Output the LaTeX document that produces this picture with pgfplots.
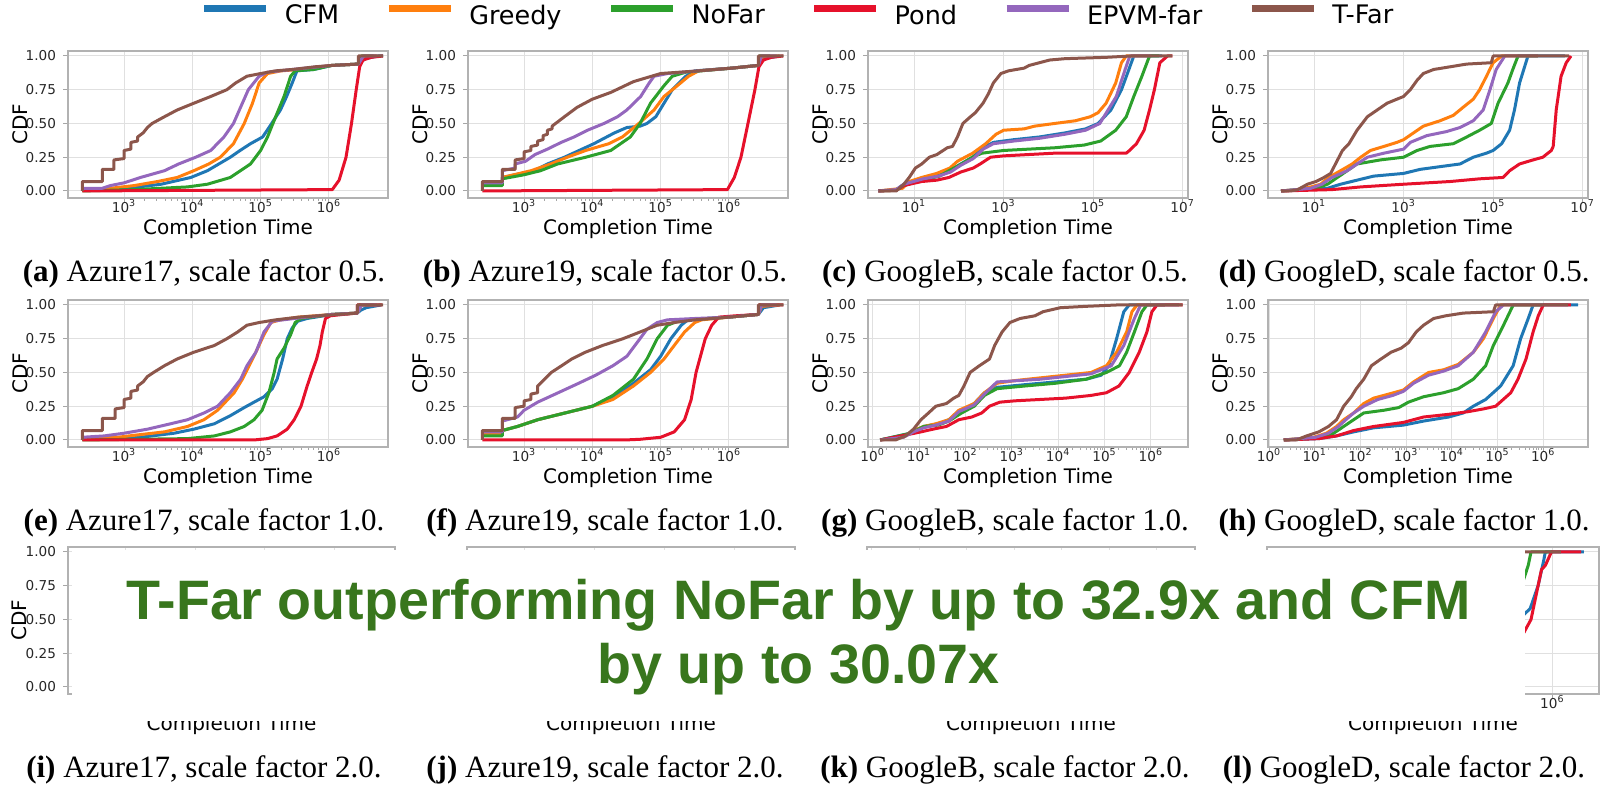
\documentclass[border=0pt]{standalone}
\usepackage{fontspec}
\setmainfont{Liberation Serif}
\newfontfamily\dvs{DejaVu Sans}
\newfontfamily\lsans{Liberation Sans}
\usepackage{pgfplots}
\pgfplotsset{compat=1.18}
\definecolor{cfm}{HTML}{1F77B4}
\definecolor{greedy}{HTML}{FF7F0E}
\definecolor{nofar}{HTML}{2CA02C}
\definecolor{pond}{HTML}{E6112B}
\definecolor{epvm}{HTML}{9467BD}
\definecolor{tfar}{HTML}{8C564B}
\definecolor{tgreen}{HTML}{38761D}
\newcommand\tickfont{\dvs\fontsize{6.8pt}{8pt}\selectfont}
\newcommand\labfont{\dvs\fontsize{10pt}{12pt}\selectfont}
\newcommand\legfont{\dvs\fontsize{12.75pt}{15pt}\selectfont}
\newcommand\capfont{\fontsize{15.5pt}{18pt}\selectfont}
\pgfplotsset{
  panel/.style={
    scale only axis, width=160pt, height=73.5pt,
    ymin=-0.052, ymax=1.037, tick pos=left,
    ytick={0,0.25,0.5,0.75,1}, yticklabels={0.00,0.25,0.50,0.75,1.00},
    xmajorgrids, ymajorgrids, grid style={draw=black!12, line width=0.5pt},
    axis line style={draw=black!30, line width=0.6pt},
    tick style={draw=black!35, line width=0.5pt},
    tick align=outside, major tick length=2.5pt, minor tick length=1.5pt,
    xticklabel style={font=\tickfont, text=black!85, inner sep=1pt, yshift=3pt},
    yticklabel style={font=\tickfont, text=black!85},
    xlabel={Completion Time}, ylabel={CDF},
    xlabel style={font=\labfont, inner sep=1pt, at={(axis description cs:0.5,-0.212)}, anchor=center},
    ylabel style={font=\labfont, at={(axis description cs:-0.15,0.5)}, anchor=center},
    every axis plot/.append style={line width=1.5pt, line join=round},
  },
  azx/.style={xmin=151, xmax=7.33e6, xtick={1e3,1e4,1e5,1e6},
    xticklabels={10\textsuperscript{3},10\textsuperscript{4},10\textsuperscript{5},10\textsuperscript{6}}},
  gox/.style={xmin=0.933, xmax=1.32e7, xtick={1e1,1e3,1e5,1e7},
    xticklabels={10\textsuperscript{1},10\textsuperscript{3},10\textsuperscript{5},10\textsuperscript{7}}},
  gax/.style={xtick={1,1e1,1e2,1e3,1e4,1e5,1e6},
    xticklabels={10\textsuperscript{0},10\textsuperscript{1},10\textsuperscript{2},10\textsuperscript{3},10\textsuperscript{4},10\textsuperscript{5},10\textsuperscript{6}}},
}
\begin{document}
\begin{tikzpicture}[x=1pt,y=1pt]
\useasboundingbox (0,0) rectangle (802,392.5);

% ---------------- (a) ----------------
\begin{axis}[xmode=log, panel, azx, anchor=south west, at={(34pt,293.5pt)}]
\addplot[cfm] coordinates {(245,0.005)(1120,0.02)(3500,0.05)(9500,0.10)(1.66e4,0.15)(3.6e4,0.25)(5e4,0.30)(7.1e4,0.35)(1.07e5,0.40)(1.45e5,0.50)(1.95e5,0.60)(2.4e5,0.70)(2.9e5,0.80)(3.4e5,0.89)(6e5,0.90)(1.1e6,0.93)(2.7e6,0.94)(3.4e6,0.98)(5.2e6,1.0)(6.2e6,1.0)};
\addplot[greedy] coordinates {(245,0.005)(630,0.02)(1410,0.04)(3100,0.07)(6000,0.10)(1.05e4,0.15)(1.74e4,0.20)(2.57e4,0.25)(4e4,0.35)(5.75e4,0.50)(7.6e4,0.65)(9.5e4,0.80)(1.26e5,0.87)(2e5,0.89)(3.7e5,0.90)(1.1e6,0.93)(2.7e6,0.94)(3.2e6,1.0)(5e6,1.0)};
\addplot[nofar] coordinates {(245,0)(1410,0.01)(8500,0.03)(1.66e4,0.05)(3.6e4,0.10)(7.1e4,0.20)(1e5,0.30)(1.26e5,0.40)(1.66e5,0.55)(2.2e5,0.70)(2.75e5,0.85)(3.2e5,0.89)(6e5,0.90)(1.1e6,0.93)(2.7e6,0.94)(3e6,1.0)(4.5e6,1.0)};
\addplot[pond] coordinates {(245,0)(1.12e6,0.01)(1.41e6,0.08)(1.78e6,0.25)(2.14e6,0.50)(2.51e6,0.75)(2.82e6,0.92)(3.16e6,0.97)(4.17e6,0.99)(6.2e6,1.0)};
\addplot[epvm] coordinates {(245,0.02)(480,0.02)(630,0.04)(1000,0.06)(1740,0.10)(3900,0.15)(6300,0.20)(1.12e4,0.25)(1.86e4,0.30)(2.9e4,0.40)(4e4,0.50)(5.4e4,0.65)(6.6e4,0.75)(9.5e4,0.85)(1.26e5,0.88)(2.9e5,0.90)(1.1e6,0.93)(2.7e6,0.94)(3.2e6,1.0)(5e6,1.0)};
\addplot[tfar] coordinates {(245,0)(245,0.07)(480,0.07)(480,0.16)(710,0.16)(710,0.23)(1000,0.24)(1000,0.30)(1260,0.31)(1260,0.36)(1580,0.37)(1580,0.40)(1900,0.43)(2200,0.47)(2570,0.50)(3900,0.55)(6000,0.60)(1.05e4,0.65)(1.86e4,0.70)(3.2e4,0.75)(4.3e4,0.80)(6.3e4,0.85)(1e5,0.87)(1.66e5,0.89)(2.9e5,0.90)(6.3e5,0.92)(1.1e6,0.93)(2.7e6,0.94)(2.7e6,1.0)(6.2e6,1.0)};
\end{axis}

% ---------------- (b) ----------------
\begin{axis}[xmode=log, panel, azx, anchor=south west, at={(234pt,293.5pt)}]
\addplot[cfm] coordinates {(245,0.05)(480,0.05)(480,0.10)(1410,0.15)(2200,0.20)(3900,0.25)(1.05e4,0.35)(2.1e4,0.43)(3.2e4,0.47)(5e4,0.48)(6.3e4,0.50)(8.5e4,0.55)(1.12e5,0.65)(1.48e5,0.75)(2.34e5,0.85)(3.2e5,0.89)(1.1e6,0.91)(2.7e6,0.93)(3.2e6,0.98)(5.5e6,1.0)};
\addplot[greedy] coordinates {(245,0.05)(480,0.05)(480,0.10)(1260,0.15)(2450,0.20)(4300,0.25)(8000,0.30)(1.74e4,0.35)(2.75e4,0.40)(4.8e4,0.50)(8e4,0.60)(1.12e5,0.70)(1.66e5,0.77)(2.57e5,0.85)(3.6e5,0.89)(1.1e6,0.91)(2.7e6,0.93)(3e6,0.99)(5.5e6,1.0)};
\addplot[nofar] coordinates {(245,0.04)(480,0.04)(480,0.09)(1000,0.12)(1740,0.15)(3100,0.20)(8000,0.25)(1.86e4,0.30)(3.6e4,0.40)(5e4,0.50)(7.1e4,0.65)(1.12e5,0.78)(1.48e5,0.85)(2.34e5,0.88)(1.1e6,0.91)(2.7e6,0.93)(2.8e6,1.0)(4e6,1.0)};
\addplot[pond] coordinates {(245,0)(9.5e5,0.01)(1.2e6,0.10)(1.5e6,0.25)(1.9e6,0.50)(2.4e6,0.75)(2.75e6,0.92)(3.2e6,0.97)(4.2e6,0.99)(6.2e6,1.0)};
\addplot[epvm] coordinates {(245,0.06)(480,0.06)(480,0.15)(740,0.17)(740,0.20)(1050,0.22)(1450,0.27)(2200,0.31)(3500,0.36)(5400,0.40)(8500,0.45)(1.48e4,0.50)(2.34e4,0.55)(3.2e4,0.60)(5.1e4,0.70)(6.8e4,0.80)(8e4,0.85)(1.26e5,0.87)(3.6e5,0.89)(1.1e6,0.91)(2.7e6,0.93)(3e6,1.0)(5e6,1.0)};
\addplot[tfar] coordinates {(245,0)(245,0.07)(480,0.07)(480,0.16)(740,0.16)(740,0.23)(1000,0.24)(1000,0.29)(1260,0.30)(1260,0.33)(1580,0.34)(1580,0.37)(1900,0.38)(1900,0.41)(2200,0.42)(2200,0.45)(2570,0.46)(2570,0.48)(3900,0.55)(6000,0.62)(1e4,0.68)(1.86e4,0.73)(4e4,0.81)(1e5,0.87)(3.6e5,0.89)(1.1e6,0.91)(2.7e6,0.93)(2.7e6,1.0)(6.3e6,1.0)};
\end{axis}

% ---------------- (c) ----------------
\begin{axis}[xmode=log, panel, gox, anchor=south west, at={(434pt,293.5pt)}]
\addplot[cfm] coordinates {(1.58,0)(3.98,0.01)(5.9,0.05)(16,0.10)(32,0.12)(63,0.15)(110,0.20)(204,0.25)(347,0.32)(589,0.36)(1700,0.38)(6310,0.40)(2.34e4,0.43)(6.8e4,0.46)(1.29e5,0.50)(2.5e5,0.60)(4.3e5,0.75)(6.3e5,0.90)(8.1e5,1.0)(3.5e6,1.0)};
\addplot[greedy] coordinates {(1.58,0)(5.5,0.02)(7.8,0.07)(14.8,0.10)(32,0.13)(63,0.17)(93,0.22)(204,0.28)(398,0.35)(676,0.42)(1000,0.45)(2880,0.46)(4900,0.48)(1.38e4,0.50)(4e4,0.52)(8.7e4,0.55)(1.29e5,0.58)(1.95e5,0.65)(3.2e5,0.80)(4.3e5,0.95)(5.5e5,1.0)(2e6,1.0)};
\addplot[nofar] coordinates {(1.58,0)(3.98,0.005)(5.9,0.04)(14.8,0.08)(37,0.11)(60,0.15)(115,0.20)(200,0.25)(330,0.28)(1000,0.30)(3700,0.31)(1.38e4,0.32)(6.3e4,0.34)(1.48e5,0.37)(3.2e5,0.45)(5.5e5,0.55)(8.1e5,0.70)(1.23e6,0.85)(1.82e6,1.0)(3e6,1.0)};
\addplot[pond] coordinates {(1.58,0)(3.98,0.005)(5.9,0.04)(14.8,0.07)(32,0.08)(60,0.10)(110,0.14)(210,0.17)(300,0.20)(510,0.25)(1000,0.26)(3700,0.27)(1.38e4,0.28)(5.5e5,0.28)(6.5e5,0.30)(9.3e5,0.35)(1.38e6,0.45)(1.82e6,0.60)(2.34e6,0.75)(3.1e6,0.95)(4.6e6,1.0)(5.9e6,1.0)};
\addplot[epvm] coordinates {(1.58,0)(3.98,0.01)(5.9,0.05)(16,0.09)(35,0.11)(65,0.14)(110,0.19)(210,0.24)(350,0.31)(590,0.35)(1700,0.37)(6300,0.39)(2.34e4,0.42)(6.8e4,0.45)(1.41e5,0.50)(3.3e5,0.70)(5.2e5,0.90)(6.6e5,1.0)(2e6,1.0)};
\addplot[tfar] coordinates {(1.58,0)(3.98,0)(5.9,0.05)(7.76,0.10)(10.7,0.17)(14.8,0.20)(21.9,0.25)(32.4,0.27)(55,0.32)(72,0.33)(93,0.40)(123,0.50)(182,0.55)(234,0.58)(347,0.65)(457,0.72)(589,0.80)(871,0.87)(1290,0.89)(2880,0.91)(3720,0.93)(6310,0.95)(1.07e4,0.97)(2.34e4,0.98)(1.95e5,0.99)(7.2e5,1.0)(5.9e6,1.0)};
\end{axis}

% ---------------- (d) ----------------
\begin{axis}[xmode=log, panel, gox, anchor=south west, at={(634pt,293.5pt)}]
\addplot[cfm] coordinates {(1.82,0)(20,0.02)(39,0.05)(91,0.08)(214,0.11)(1000,0.13)(2340,0.16)(6500,0.18)(1.82e4,0.20)(3.6e4,0.25)(7.1e4,0.28)(1e5,0.30)(1.55e5,0.35)(2.34e5,0.45)(3e5,0.60)(3.9e5,0.80)(6e5,1.0)(4e6,1.0)};
\addplot[greedy] coordinates {(1.82,0)(4.3,0.01)(8.5,0.03)(14,0.05)(21,0.10)(39,0.15)(71,0.20)(110,0.25)(182,0.30)(363,0.33)(708,0.36)(1000,0.38)(1660,0.43)(2750,0.48)(6500,0.52)(1.29e4,0.56)(2.14e4,0.62)(3.6e4,0.68)(5e4,0.75)(7.1e4,0.85)(1e5,0.95)(1.55e5,1.0)(1e6,1.0)};
\addplot[nofar] coordinates {(1.82,0)(11,0.02)(20,0.05)(33,0.10)(55,0.15)(91,0.20)(302,0.23)(1000,0.25)(2000,0.30)(3900,0.33)(1.29e4,0.35)(2.57e4,0.40)(5e4,0.45)(9.1e4,0.50)(1.29e5,0.65)(2.14e5,0.80)(2.75e5,0.90)(3.6e5,1.0)(1e6,1.0)};
\addplot[pond] coordinates {(1.82,0)(25,0.01)(110,0.03)(1000,0.05)(1.1e4,0.07)(5e4,0.09)(1.66e5,0.10)(2.34e5,0.15)(3.9e5,0.20)(7.8e5,0.23)(1.29e6,0.25)(2e6,0.30)(2.2e6,0.33)(2.57e6,0.60)(3.3e6,0.85)(4.3e6,0.95)(5.5e6,1.0)};
\addplot[epvm] coordinates {(1.82,0)(8.5,0.02)(15,0.05)(25,0.10)(55,0.15)(91,0.20)(155,0.25)(363,0.28)(1000,0.31)(1410,0.36)(3300,0.41)(9100,0.44)(1.82e4,0.47)(3.6e4,0.52)(6e4,0.60)(8.5e4,0.75)(1.17e5,0.90)(1.82e5,1.0)(1e6,1.0)};
\addplot[tfar] coordinates {(1.82,0)(3.0,0)(4.3,0.01)(7.1,0.05)(11,0.07)(16.6,0.10)(23.4,0.13)(30,0.20)(43,0.30)(60,0.35)(91,0.45)(155,0.55)(257,0.60)(427,0.65)(708,0.68)(1000,0.70)(1410,0.75)(2000,0.82)(2750,0.87)(4700,0.90)(1.1e4,0.92)(2.57e4,0.94)(9.1e4,0.95)(1e5,1.0)(5e6,1.0)};
\end{axis}

% ---------------- (e) ----------------
\begin{axis}[xmode=log, panel, azx, anchor=south west, at={(34pt,169pt)}]
\addplot[cfm] coordinates {(245,0.005)(1740,0.02)(5400,0.05)(1.05e4,0.08)(2.1e4,0.12)(3.6e4,0.18)(5.75e4,0.24)(8e4,0.28)(1.12e5,0.32)(1.48e5,0.38)(1.74e5,0.45)(2.1e5,0.60)(2.45e5,0.75)(2.9e5,0.83)(3.5e5,0.88)(4.8e5,0.90)(1.1e6,0.93)(2.6e6,0.94)(2.9e6,0.96)(3.5e6,0.98)(5.8e6,1.0)};
\addplot[greedy] coordinates {(245,0.005)(800,0.02)(1740,0.04)(3900,0.06)(8500,0.10)(1.48e4,0.15)(2.34e4,0.22)(4.1e4,0.35)(5.4e4,0.45)(6.8e4,0.55)(8.5e4,0.65)(1.12e5,0.78)(1.41e5,0.87)(1.95e5,0.89)(3.6e5,0.91)(1.1e6,0.93)(2.6e6,0.94)(3e6,1.0)(5e6,1.0)};
\addplot[nofar] coordinates {(245,0)(8500,0.01)(2.1e4,0.03)(3.6e4,0.06)(5.75e4,0.10)(8e4,0.15)(1.05e5,0.22)(1.32e5,0.35)(1.58e5,0.50)(1.74e5,0.60)(2.2e5,0.68)(2.75e5,0.78)(3.2e5,0.87)(3.9e5,0.90)(1.1e6,0.93)(2.6e6,0.94)(2.8e6,1.0)(4.5e6,1.0)};
\addplot[pond] coordinates {(245,0)(8e4,0)(1.26e5,0.01)(1.74e5,0.03)(2.45e5,0.08)(3.1e5,0.15)(3.9e5,0.25)(4.8e5,0.40)(5.6e5,0.50)(6.6e5,0.60)(7.4e5,0.70)(8e5,0.80)(8.9e5,0.90)(1.05e6,0.92)(1.6e6,0.93)(2.6e6,0.94)(2.6e6,1.0)(6e6,1.0)};
\addplot[epvm] coordinates {(245,0.02)(510,0.03)(1000,0.05)(2200,0.08)(4800,0.12)(8500,0.15)(1.48e4,0.20)(2.34e4,0.25)(3.6e4,0.35)(5.1e4,0.45)(6.3e4,0.55)(8.5e4,0.65)(1.12e5,0.80)(1.48e5,0.88)(3.1e5,0.90)(1.1e6,0.93)(2.6e6,0.94)(3e6,1.0)(5e6,1.0)};
\addplot[tfar] coordinates {(245,0)(245,0.07)(480,0.07)(480,0.16)(740,0.16)(740,0.23)(1000,0.24)(1000,0.30)(1260,0.31)(1260,0.36)(1580,0.37)(1580,0.40)(1900,0.43)(2200,0.47)(2700,0.50)(3900,0.55)(6000,0.60)(1.05e4,0.65)(2.1e4,0.70)(3.2e4,0.75)(4.6e4,0.80)(6.3e4,0.85)(9.5e4,0.87)(1.66e5,0.89)(3.6e5,0.91)(7.1e5,0.92)(1.38e6,0.93)(2.6e6,0.94)(2.6e6,1.0)(6.2e6,1.0)};
\end{axis}

% ---------------- (f) ----------------
\begin{axis}[xmode=log, panel, azx, anchor=south west, at={(234pt,169pt)}]
\addplot[cfm] coordinates {(245,0.04)(480,0.04)(480,0.07)(800,0.10)(1580,0.15)(3980,0.20)(1e4,0.25)(2e4,0.32)(4e4,0.42)(7.1e4,0.52)(1e5,0.62)(1.41e5,0.75)(2e5,0.85)(2.5e5,0.89)(5e5,0.90)(1e6,0.91)(2.7e6,0.93)(3.2e6,0.98)(5.5e6,1.0)};
\addplot[greedy] coordinates {(245,0.04)(480,0.04)(480,0.07)(800,0.10)(1580,0.15)(3980,0.20)(1e4,0.25)(2e4,0.30)(4e4,0.40)(7.1e4,0.50)(1.12e5,0.60)(1.58e5,0.70)(2.24e5,0.80)(3.16e5,0.87)(4e5,0.89)(1e6,0.91)(2.7e6,0.93)(3e6,0.99)(5.5e6,1.0)};
\addplot[nofar] coordinates {(245,0.03)(480,0.03)(480,0.07)(800,0.10)(1580,0.15)(3980,0.20)(1e4,0.25)(2e4,0.33)(4e4,0.45)(6.3e4,0.60)(8.9e4,0.75)(1.26e5,0.85)(2e5,0.89)(5e5,0.90)(1e6,0.91)(2.7e6,0.93)(2.8e6,1.0)(4e6,1.0)};
\addplot[pond] coordinates {(245,0)(3e4,0)(5e4,0.005)(1e5,0.02)(1.58e5,0.06)(2.24e5,0.15)(2.8e5,0.30)(3.3e5,0.50)(4.5e5,0.75)(5.6e5,0.85)(7.1e5,0.91)(1.26e6,0.92)(2.7e6,0.93)(2.75e6,1.0)(6.2e6,1.0)};
\addplot[epvm] coordinates {(245,0.06)(480,0.06)(480,0.14)(800,0.17)(1000,0.22)(1580,0.28)(3160,0.35)(6300,0.42)(1.12e4,0.48)(2e4,0.55)(3.2e4,0.62)(4.5e4,0.72)(6.3e4,0.82)(8.9e4,0.87)(1.26e5,0.89)(3.2e5,0.90)(1e6,0.91)(2.7e6,0.93)(3e6,1.0)(5e6,1.0)};
\addplot[tfar] coordinates {(245,0)(245,0.07)(480,0.07)(480,0.16)(740,0.16)(740,0.24)(1000,0.25)(1000,0.29)(1260,0.30)(1260,0.34)(1580,0.35)(1580,0.40)(2000,0.45)(2500,0.50)(3550,0.55)(5000,0.60)(7900,0.65)(1.41e4,0.70)(2.8e4,0.75)(5e4,0.80)(8.9e4,0.85)(1.58e5,0.87)(3.2e5,0.89)(1e6,0.91)(2.7e6,0.93)(2.7e6,1.0)(6.3e6,1.0)};
\end{axis}

% ---------------- (g) ----------------
\begin{axis}[xmode=log, panel, gax, xmin=0.794, xmax=6.31e6, anchor=south west, at={(434pt,169pt)}]
\addplot[cfm] coordinates {(1.45,0)(6.6,0.05)(12.6,0.10)(26,0.12)(44,0.15)(83,0.22)(155,0.27)(257,0.35)(480,0.39)(1950,0.41)(8700,0.43)(4e4,0.45)(8.5e4,0.48)(1.23e5,0.55)(1.82e5,0.75)(2.6e5,0.95)(3.4e5,1.0)(4e6,1.0)};
\addplot[greedy] coordinates {(1.45,0)(4.6,0.02)(7.6,0.07)(12.6,0.10)(23,0.12)(44,0.15)(72,0.22)(155,0.27)(257,0.35)(480,0.42)(1170,0.44)(4100,0.46)(1.45e4,0.48)(5.1e4,0.50)(1.1e5,0.55)(1.82e5,0.65)(3e5,0.80)(3.9e5,0.95)(5e5,1.0)(2e6,1.0)};
\addplot[nofar] coordinates {(1.45,0)(6.6,0.05)(12.6,0.10)(26,0.11)(44,0.14)(83,0.20)(155,0.25)(257,0.33)(480,0.38)(1950,0.40)(8700,0.42)(4e4,0.45)(1.1e5,0.50)(2.1e5,0.55)(3e5,0.65)(4.4e5,0.80)(6.4e5,0.95)(8.2e5,1.0)(2e6,1.0)};
\addplot[pond] coordinates {(1.45,0)(5.8,0.04)(11,0.06)(20,0.08)(39,0.10)(72,0.15)(137,0.17)(225,0.20)(330,0.25)(550,0.28)(1170,0.29)(4100,0.30)(1.45e4,0.31)(5.1e4,0.33)(1.1e5,0.35)(2.05e5,0.40)(3.4e5,0.50)(5.6e5,0.65)(8.2e5,0.80)(1.05e6,0.95)(1.35e6,1.0)(4.8e6,1.0)};
\addplot[epvm] coordinates {(1.45,0)(4.6,0.02)(7.6,0.06)(12.6,0.09)(23,0.11)(44,0.14)(72,0.21)(155,0.26)(257,0.34)(480,0.43)(4100,0.45)(1.45e4,0.47)(5.1e4,0.49)(1.4e5,0.55)(2.6e5,0.70)(4.4e5,0.90)(6e5,1.0)(2e6,1.0)};
\addplot[tfar] coordinates {(1.45,0)(3.1,0)(5.1,0.03)(7.6,0.08)(11,0.15)(16,0.20)(23,0.25)(39,0.27)(56,0.31)(72,0.33)(93,0.40)(126,0.50)(200,0.55)(331,0.60)(427,0.70)(617,0.80)(912,0.87)(1510,0.90)(3160,0.92)(4700,0.95)(1.12e4,0.98)(4e4,0.99)(1.82e5,1.0)(4.8e6,1.0)};
\end{axis}

% ---------------- (h) ----------------
\begin{axis}[xmode=log, panel, gax, xmin=0.95, xmax=9.55e6, anchor=south west, at={(634pt,169pt)}]
\addplot[cfm] coordinates {(2.1,0)(12.3,0.01)(30,0.03)(71,0.06)(195,0.09)(871,0.11)(2400,0.14)(8500,0.17)(1.78e4,0.20)(2.95e4,0.25)(5.5e4,0.30)(1.17e5,0.40)(2.2e5,0.55)(3.2e5,0.75)(4.7e5,0.90)(6e5,1.0)(5.8e6,1.0)};
\addplot[greedy] coordinates {(2.1,0)(9.5,0.02)(18,0.05)(30,0.10)(43,0.15)(71,0.20)(118,0.27)(195,0.31)(417,0.34)(871,0.37)(1450,0.43)(3100,0.50)(6600,0.52)(1.38e4,0.56)(2.95e4,0.65)(4.9e4,0.75)(8.1e4,0.90)(1.17e5,1.0)(1e6,1.0)};
\addplot[nofar] coordinates {(2.1,0)(16,0.02)(26,0.05)(43,0.10)(71,0.15)(118,0.20)(324,0.22)(690,0.24)(1120,0.28)(2400,0.32)(6600,0.35)(1.38e4,0.38)(2.95e4,0.45)(5.5e4,0.55)(8.1e4,0.70)(1.35e5,0.85)(2.2e5,1.0)(1e6,1.0)};
\addplot[pond] coordinates {(2.1,0)(12.3,0.01)(30,0.03)(71,0.07)(195,0.10)(871,0.13)(2400,0.17)(8500,0.19)(2.3e4,0.21)(4.9e4,0.23)(9.1e4,0.25)(1.95e5,0.35)(2.8e5,0.45)(4.2e5,0.60)(6e5,0.80)(7.8e5,0.92)(1e6,1.0)(4e6,1.0)};
\addplot[epvm] coordinates {(2.1,0)(10.5,0.02)(20,0.05)(33,0.10)(48,0.15)(71,0.20)(118,0.25)(240,0.30)(510,0.33)(871,0.36)(1450,0.42)(3100,0.48)(6600,0.51)(1.38e4,0.55)(2.95e4,0.65)(5.5e4,0.80)(9.1e4,0.95)(1.35e5,1.0)(1e6,1.0)};
\addplot[tfar] coordinates {(2.1,0)(4,0)(6.6,0.03)(12.3,0.06)(20,0.10)(30,0.15)(43,0.25)(63,0.32)(81,0.38)(118,0.45)(174,0.55)(282,0.60)(468,0.65)(776,0.68)(1120,0.72)(1660,0.80)(2400,0.85)(4000,0.90)(7400,0.92)(1.78e4,0.94)(8.1e4,0.95)(9.1e4,1.0)(3.5e6,1.0)};
\end{axis}

% ---------------- row 3 (mostly covered by the banner) ----------------
\begin{axis}[xmode=log, panel, azx, xticklabels={}, width=163.5pt, anchor=south west, at={(34pt,45.5pt)}]
\addplot[draw=none] coordinates {(1e3,0)(1e6,1)};
\end{axis}
\begin{axis}[xmode=log, panel, azx, xticklabels={}, yticklabels={}, ylabel={}, width=164pt, anchor=south west, at={(233.5pt,45.5pt)}]
\addplot[draw=none] coordinates {(1e3,0)(1e6,1)};
\end{axis}
\begin{axis}[xmode=log, panel, gax, xticklabels={}, yticklabels={}, ylabel={}, xmin=0.794, xmax=6.31e6, width=164pt, anchor=south west, at={(433.5pt,45.5pt)}]
\addplot[draw=none] coordinates {(1e3,0)(1e6,1)};
\end{axis}
\begin{axis}[xmode=log, panel, xtick={1e6}, xticklabels={10\textsuperscript{6}}, yticklabels={}, ylabel={}, xmin=1, xmax=9.55e6, width=166pt, anchor=south west, at={(633.5pt,45.5pt)}]
\addplot[cfm] coordinates {(2,0)(100,0.05)(1e4,0.15)(1e5,0.30)(2.4e5,0.53)(3.4e5,0.58)(5e5,0.75)(6.5e5,0.93)(7.1e5,1.0)(4.6e6,1.0)};
\addplot[greedy] coordinates {(2,0)(100,0.25)(1e4,0.60)(1e5,0.95)(1.5e5,1.0)(2e5,1.0)};
\addplot[nofar] coordinates {(2,0)(100,0.15)(1e4,0.30)(1e5,0.50)(2.4e5,0.78)(3.1e5,0.90)(3.55e5,1.0)(1e6,1.0)};
\addplot[pond] coordinates {(2,0)(100,0.05)(1e4,0.15)(1e5,0.25)(2.4e5,0.39)(3.55e5,0.50)(5e5,0.75)(5.9e5,0.87)(7.1e5,0.90)(9.5e5,1.0)(4e6,1.0)};
\addplot[epvm] coordinates {(2,0)(100,0.22)(1e4,0.55)(1e5,0.92)(1.5e5,1.0)(2e5,1.0)};
\addplot[tfar] coordinates {(2,0)(100,0.6)(1e4,0.95)(1e5,1.0)(1.5e6,1.0)};
\end{axis}

% ---------------- legend (own invisible axis) ----------------
\begin{axis}[hide axis, scale only axis, width=802pt, height=392.5pt,
  anchor=south west, at={(0pt,0pt)}, xmin=0, xmax=802, ymin=0, ymax=392.5,
  legend columns=6,
  legend style={at={(axis cs:399.5,384.5)}, anchor=center, draw=none, fill=none,
    font=\legfont, inner sep=0pt,
    /tikz/every odd column/.append style={column sep=5.5pt},
    /tikz/every even column/.append style={column sep=21pt}}]
\addlegendimage{legend image code/.code={\draw[cfm, line width=3.5pt] (0pt,0.36em) -- (31pt,0.36em);}}
\addlegendentry{CFM}
\addlegendimage{legend image code/.code={\draw[greedy, line width=3.5pt] (0pt,0.36em) -- (31pt,0.36em);}}
\addlegendentry{Greedy}
\addlegendimage{legend image code/.code={\draw[nofar, line width=3.5pt] (0pt,0.36em) -- (31pt,0.36em);}}
\addlegendentry{NoFar}
\addlegendimage{legend image code/.code={\draw[pond, line width=3.5pt] (0pt,0.36em) -- (31pt,0.36em);}}
\addlegendentry{Pond}
\addlegendimage{legend image code/.code={\draw[epvm, line width=3.5pt] (0pt,0.36em) -- (31pt,0.36em);}}
\addlegendentry{EPVM-far}
\addlegendimage{legend image code/.code={\draw[tfar, line width=3.5pt] (0pt,0.36em) -- (31pt,0.36em);}}
\addlegendentry{T-Far}
\end{axis}

% ---------------- captions ----------------
\node[font=\capfont] at (102,255.5) {\textbf{(a)} Azure17, scale factor 0.5.};
\node[font=\capfont] at (302.5,255.5) {\textbf{(b)} Azure19, scale factor 0.5.};
\node[font=\capfont] at (502.5,255.5) {\textbf{(c)} GoogleB, scale factor 0.5.};
\node[font=\capfont] at (702,255.5) {\textbf{(d)} GoogleD, scale factor 0.5.};
\node[font=\capfont] at (102,131) {\textbf{(e)} Azure17, scale factor 1.0.};
\node[font=\capfont] at (302.5,131) {\textbf{(f)} Azure19, scale factor 1.0.};
\node[font=\capfont] at (502.5,131) {\textbf{(g)} GoogleB, scale factor 1.0.};
\node[font=\capfont] at (702,131) {\textbf{(h)} GoogleD, scale factor 1.0.};
\node[font=\capfont] at (102,7.5) {\textbf{(i)} Azure17, scale factor 2.0.};
\node[font=\capfont] at (302.5,7.5) {\textbf{(j)} Azure19, scale factor 2.0.};
\node[font=\capfont] at (502.5,7.5) {\textbf{(k)} GoogleB, scale factor 2.0.};
\node[font=\capfont] at (702,7.5) {\textbf{(l)} GoogleD, scale factor 2.0.};

% ---------------- overlay ----------------
\fill[white] (36,32) rectangle (762.5,117.5);
\node[align=center, inner sep=0pt, text=tgreen,
  font={\lsans\bfseries\fontsize{27.8pt}{32pt}\selectfont}] at (399.25,73.75)
  {T-Far outperforming NoFar by up to 32.9x and CFM\\by up to 30.07x};
\end{tikzpicture}
\end{document}
